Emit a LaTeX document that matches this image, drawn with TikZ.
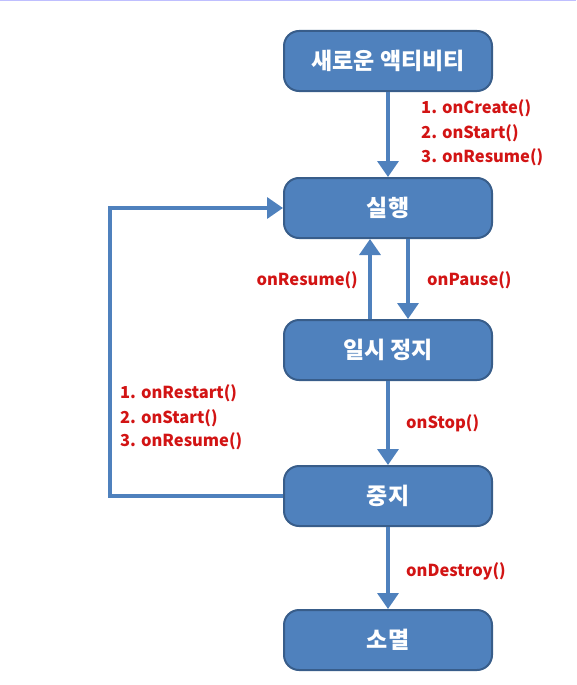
\documentclass[tikz,border=0pt]{standalone}
\usepackage{fontspec}
\setmainfont{Noto Sans CJK KR}
\usetikzlibrary{arrows.meta, positioning}

\definecolor{boxblue}{RGB}{79,129,189}
\definecolor{boxline}{RGB}{56,93,138}
\definecolor{callred}{RGB}{210,20,20}

\begin{document}
\begin{tikzpicture}[
      x=1pt, y=-1pt,
      >={Triangle[width=21pt,length=16pt]},
      state/.style={draw=boxline,line width=2pt,fill=boxblue,rounded corners=15pt,
        minimum width=208pt,minimum height=60pt,text=white,font=\fontsize{23}{26}\selectfont\bfseries},
      transition/.style={->,line width=3.5pt,boxblue},
      call label/.style={text=callred,font=\fontsize{16.5}{19}\selectfont\bfseries,inner sep=0pt,anchor=west}
      ]
      \useasboundingbox (0,0) rectangle (576,685);
      % top strip
      \fill[blue!25] (0,0) rectangle (576,1.5);
      % states
      \node [state] (new) at (388,61) {새로운 액티비티};
      \node [state] (run) at (388,208) {실행};
      \node [state] (pause) at (388,350) {일시 정지};
      \node [state] (stop) at (388,496) {중지};
      \node [state] (dead) at (388,640) {소멸};
      % transitions
      \draw [transition] (new) -- (run);
      \draw [transition] ([xshift=20pt]run.south) -- ([xshift=20pt]pause.north);
      \draw [transition] ([xshift=-18pt]pause.north) -- ([xshift=-18pt]run.south);
      \draw [transition] (pause) -- (stop);
      \draw [transition] (stop) -- (dead);
      \draw [transition] (stop.west) -- ++(-173,0) |- (run.west);
      % labels
      \node [call label] (create) at (421,108) {1. onCreate()};
      \node [call label] (start1) at (421,133) {2. onStart()};
      \node [call label] (resume1) at (421,157) {3. onResume()};
      \node [call label,anchor=east] (resume2) at (358,280) {onResume()};
      \node [call label] (pausecall) at (427,280) {onPause()};
      \node [call label] (restart) at (120,393) {1. onRestart()};
      \node [call label] (start2) at (120,418) {2. onStart()};
      \node [call label] (resume3) at (120,441) {3. onResume()};
      \node [call label] (stopcall) at (406,423) {onStop()};
      \node [call label] (destroy) at (406,571) {onDestroy()};
    \end{tikzpicture}
\end{document}
